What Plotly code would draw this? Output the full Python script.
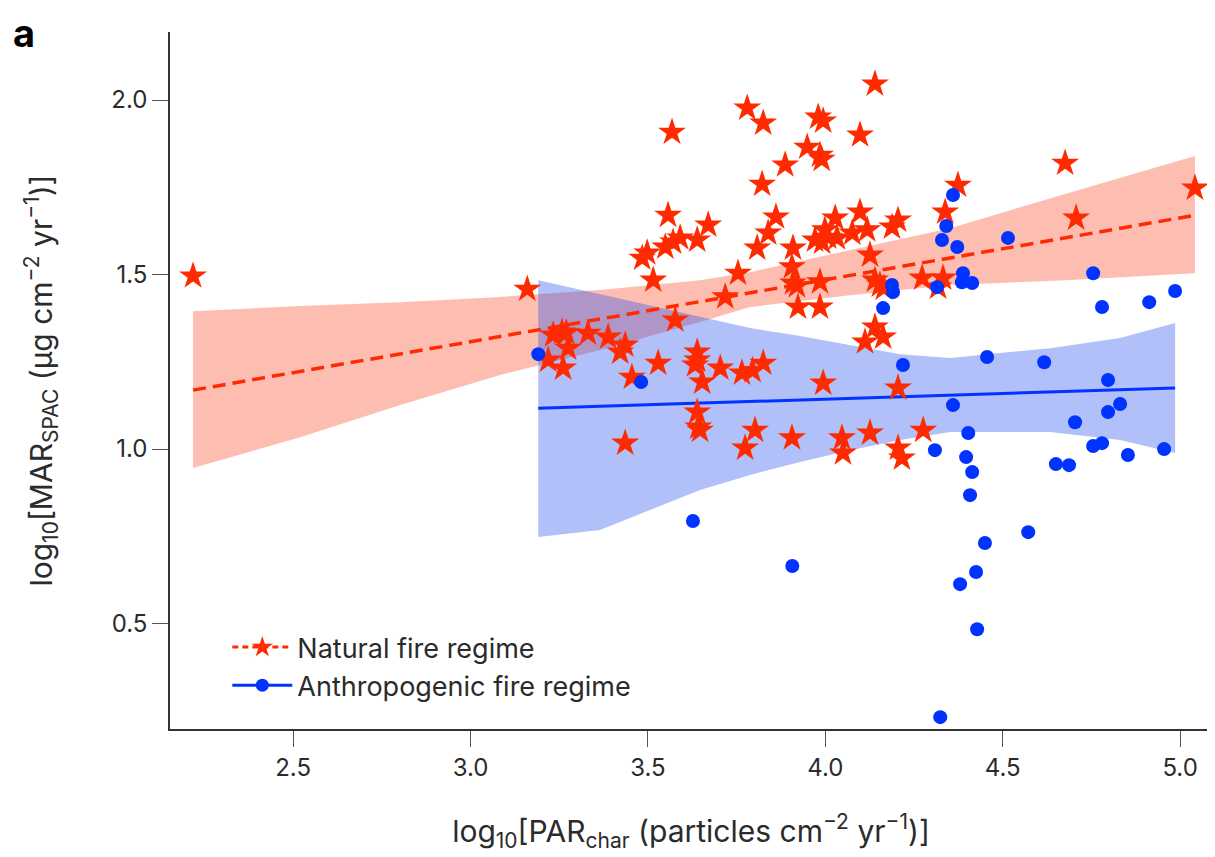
import plotly.graph_objects as go

# Natural fire regime (stars)
nat_x = [2.218, 3.160, 3.219, 3.233, 3.258, 3.270, 3.275, 3.261, 3.331, 3.388,
         3.436, 3.422, 3.455, 3.436, 3.484, 3.498, 3.515, 3.529, 3.549, 3.557,
         3.568, 3.571, 3.577, 3.591, 3.639, 3.639, 3.639, 3.633, 3.653, 3.639,
         3.642, 3.647, 3.670, 3.704, 3.718, 3.754, 3.765, 3.795, 3.774, 3.780,
         3.802, 3.808, 3.822, 3.825, 3.825, 3.839, 3.861, 3.887, 3.906, 3.906,
         3.909, 3.909, 3.920, 3.923, 3.949, 3.971, 3.980, 3.994, 3.985, 3.990,
         3.985, 3.985, 3.991, 3.999, 3.994, 4.008, 4.028, 4.033, 4.047, 4.050,
         4.076, 4.098, 4.098, 4.112, 4.118, 4.126, 4.126, 4.140, 4.140, 4.140,
         4.154, 4.163, 4.165, 4.188, 4.205, 4.205, 4.205, 4.216, 4.273, 4.276,
         4.318, 4.332, 4.338, 4.374, 4.676, 4.707, 5.042]
nat_y = [1.496, 1.458, 1.255, 1.327, 1.335, 1.333, 1.289, 1.232, 1.332, 1.321,
         1.298, 1.278, 1.206, 1.017, 1.547, 1.562, 1.484, 1.246, 1.579, 1.670,
         1.908, 1.593, 1.370, 1.605, 1.599, 1.278, 1.255, 1.241, 1.192, 1.106,
         1.063, 1.054, 1.642, 1.232, 1.436, 1.504, 1.218, 1.225, 1.003, 1.977,
         1.054, 1.576, 1.759, 1.934, 1.246, 1.619, 1.665, 1.814, 1.522, 1.032,
         1.576, 1.476, 1.468, 1.407, 1.865, 1.599, 1.951, 1.940, 1.842, 1.830,
         1.479, 1.407, 1.593, 1.628, 1.189, 1.607, 1.662, 1.605, 1.032, 0.989,
         1.619, 1.679, 1.900, 1.307, 1.628, 1.556, 1.046, 2.046, 1.484, 1.350,
         1.470, 1.321, 1.461, 1.636, 1.656, 1.175, 1.003, 0.974, 1.490, 1.054,
         1.464, 1.490, 1.679, 1.756, 1.819, 1.662, 1.748]

# Anthropogenic fire regime (dots)
ant_x = [3.191, 3.481, 3.627, 3.907, 4.163, 4.188, 4.191, 4.219, 4.309, 4.315,
         4.324, 4.329, 4.341, 4.360, 4.372, 4.388, 4.385, 4.414, 4.360, 4.403,
         4.397, 4.414, 4.408, 4.450, 4.425, 4.380, 4.428, 4.456, 4.515, 4.572,
         4.617, 4.650, 4.687, 4.704, 4.755, 4.755, 4.780, 4.780, 4.797, 4.797,
         4.831, 4.853, 4.913, 4.955, 4.986]
ant_y = [1.272, 1.192, 0.794, 0.665, 1.404, 1.470, 1.450, 1.241, 0.997, 1.464,
         0.232, 1.599, 1.639, 1.728, 1.579, 1.504, 1.478, 1.476, 1.126, 1.046,
         0.977, 0.934, 0.868, 0.731, 0.648, 0.613, 0.484, 1.264, 1.605, 0.762,
         1.249, 0.957, 0.954, 1.077, 1.504, 1.009, 1.017, 1.407, 1.198, 1.106,
         1.129, 0.983, 1.421, 1.000, 1.453]

# Fitted lines (end points)
nat_fit_x = [2.218, 5.042]
nat_fit_y = [1.169, 1.670]
ant_fit_x = [3.191, 4.986]
ant_fit_y = [1.117, 1.175]

# Confidence bands
nat_band_x = [2.218, 2.520, 2.802, 3.083, 3.365, 3.647, 3.788, 4.070, 4.352, 4.676, 5.042]
nat_band_hi = [1.395, 1.410, 1.421, 1.436, 1.456, 1.484, 1.507, 1.570, 1.633, 1.731, 1.840]
nat_band_lo = [0.946, 1.034, 1.126, 1.212, 1.284, 1.364, 1.407, 1.441, 1.470, 1.484, 1.504]

ant_band_x = [3.191, 3.365, 3.647, 3.788, 3.929, 4.070, 4.211, 4.352, 4.634, 4.831, 4.986]
ant_band_hi = [1.484, 1.444, 1.378, 1.347, 1.324, 1.298, 1.272, 1.261, 1.289, 1.318, 1.361]
ant_band_lo = [0.748, 0.768, 0.883, 0.926, 0.963, 0.997, 1.026, 1.049, 1.049, 1.026, 0.989]

RED = "#ff2a00"
BLUE = "#0033ff"
FONT = "Inter, Liberation Sans, sans-serif"
TXT = "#2b2b2b"

fig = go.Figure()

fig.add_trace(go.Scatter(x=nat_band_x + nat_band_x[::-1], y=nat_band_hi + nat_band_lo[::-1],
                         fill="toself", fillcolor="rgba(250,90,60,0.40)", line=dict(width=0),
                         mode="lines", hoverinfo="skip", showlegend=False))
fig.add_trace(go.Scatter(x=ant_band_x + ant_band_x[::-1], y=ant_band_hi + ant_band_lo[::-1],
                         fill="toself", fillcolor="rgba(40,80,235,0.36)", line=dict(width=0),
                         mode="lines", hoverinfo="skip", showlegend=False))
fig.add_trace(go.Scatter(x=nat_fit_x, y=nat_fit_y, mode="lines",
                         line=dict(color=RED, width=3.5, dash="13px,7px"), showlegend=False))
fig.add_trace(go.Scatter(x=ant_fit_x, y=ant_fit_y, mode="lines",
                         line=dict(color=BLUE, width=3), showlegend=False))
fig.add_trace(go.Scatter(x=nat_x, y=nat_y, mode="markers",
                         marker=dict(symbol="star", size=21, color=RED, line=dict(width=0)),
                         showlegend=False))
fig.add_trace(go.Scatter(x=ant_x, y=ant_y, mode="markers",
                         marker=dict(symbol="circle", size=14, color=BLUE, line=dict(width=0)),
                         showlegend=False))
fig.add_trace(go.Scatter(x=[None], y=[None], mode="lines+markers", name="Natural fire regime",
                         line=dict(color=RED, width=3, dash="6px,4px"),
                         marker=dict(symbol="star", size=20, color=RED)))
fig.add_trace(go.Scatter(x=[None], y=[None], mode="lines+markers", name="Anthropogenic fire regime",
                         line=dict(color=BLUE, width=3),
                         marker=dict(symbol="circle", size=13, color=BLUE)))

axis_common = dict(showline=True, linecolor="#333", linewidth=1.5, ticks="outside",
                   ticklen=16, tickcolor="#555", tickwidth=1.2, showgrid=False,
                   zeroline=False, tickfont=dict(size=24, color=TXT, family=FONT))

# page body has an 8px margin, so the figure is sized/offset to compensate
fig.update_layout(
    width=1207, height=849,
    margin=dict(l=162, r=3, t=24, b=128),
    plot_bgcolor="white", paper_bgcolor="white",
    font=dict(family=FONT, color=TXT),
    xaxis=dict(range=[2.153, 5.09], tickvals=[2.5, 3.0, 3.5, 4.0, 4.5, 5.0],
               ticktext=["2.5", "3.0", "3.5", "4.0", "4.5", "5.0"],
               title=dict(text="log<sub>10</sub>[PAR<sub>char</sub> (particles cm<sup>−2</sup> yr<sup>−1</sup>)]",
                          font=dict(size=30, color=TXT, family=FONT), standoff=40),
               **axis_common),
    yaxis=dict(range=[0.198, 2.195], tickvals=[0.5, 1.0, 1.5, 2.0],
               ticktext=["0.5", "1.0", "1.5", "2.0"],
               title=dict(text="log<sub>10</sub>[MAR<sub>SPAC</sub> (μg cm<sup>−2</sup> yr<sup>−1</sup>)]",
                          font=dict(size=30, color=TXT, family=FONT), standoff=50),
               **axis_common),
    legend=dict(x=0.055, y=0.152, xanchor="left", yanchor="top",
                bgcolor="rgba(0,0,0,0)", font=dict(size=27, color=TXT, family=FONT),
                itemwidth=60, tracegroupgap=0),
    showlegend=True,
)

fig.add_annotation(text="<b>a</b>", xref="paper", yref="paper", x=-0.152, y=1.033,
                   xanchor="left", yanchor="top", showarrow=False, borderpad=0,
                   font=dict(size=38, color="black", family=FONT))

fig.write_html("out.html")
